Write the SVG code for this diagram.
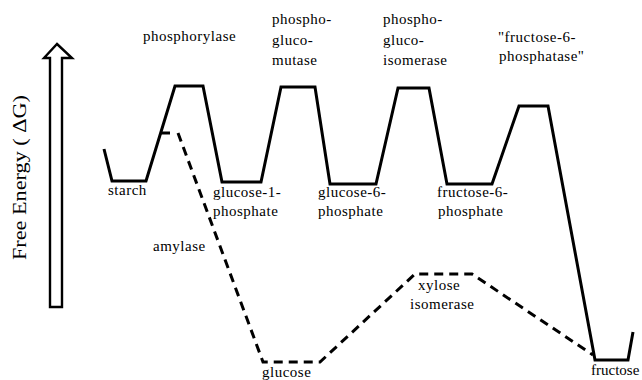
<svg xmlns="http://www.w3.org/2000/svg" width="642" height="380" viewBox="0 0 642 380" font-family="'Liberation Serif', 'Times New Roman', serif">
<style>
text{font-family:"Liberation Serif","Times New Roman",serif;font-size:15px;letter-spacing:0.5px;fill:#000}
.solid{fill:none;stroke:#000;stroke-width:3;stroke-linejoin:miter}
.dash{fill:none;stroke:#000;stroke-width:3;stroke-dasharray:9 6}
</style>
<rect width="642" height="380" fill="#fff"/>
<g id="axis">
<polygon points="57,44 72,58 62,58 62,307 50,307 50,58 44,58" fill="#fff" stroke="#000" stroke-width="2.4"/>
<text transform="translate(25.5,177.5) rotate(-90)" text-anchor="middle" style="font-size:19px;letter-spacing:0" textLength="165" lengthAdjust="spacingAndGlyphs">Free Energy ( ΔG)</text>
</g>
<g id="connectors">
<path class="solid" d="M104,149 L112,181 L146,181 L175,86 L203,86 L222,182 L261,182 L281,87 L315,87 L330,184 L376,184 L398,88 L429,88 L447,184 L492,184 L519,106 L548,106 L595,360 L628,360 L633,332"/>
<line class="solid" x1="161" y1="133" x2="170" y2="133"/>
<path class="dash" d="M178,133 L263,362 L320,362 L415,274 L472,274 L593,355"/>
</g>
<g id="enzyme-phosphorylase"><text x="143" y="41">phosphorylase</text></g>
<g id="enzyme-phosphoglucomutase">
<text x="272" y="24">phospho-</text>
<text x="272" y="45">gluco-</text>
<text x="272" y="65">mutase</text>
</g>
<g id="enzyme-phosphoglucoisomerase">
<text x="383" y="24">phospho-</text>
<text x="383" y="45">gluco-</text>
<text x="383" y="65">isomerase</text>
</g>
<g id="enzyme-f6pase">
<text x="498" y="42">"fructose-6-</text>
<text x="499" y="61">phosphatase"</text>
</g>
<g id="starch"><text x="108" y="195">starch</text></g>
<g id="g1p"><text x="213" y="197">glucose-1-</text><text x="213" y="216">phosphate</text></g>
<g id="g6p"><text x="318" y="197">glucose-6-</text><text x="318" y="216">phosphate</text></g>
<g id="f6p"><text x="437" y="197">fructose-6-</text><text x="438" y="216">phosphate</text></g>
<g id="amylase"><text x="153" y="251">amylase</text></g>
<g id="xylose-isomerase"><text x="418" y="290">xylose</text><text x="410" y="309">isomerase</text></g>
<g id="glucose"><text x="262" y="377">glucose</text></g>
<g id="fructose"><text x="591" y="375" style="letter-spacing:0">fructose</text></g>
</svg>
